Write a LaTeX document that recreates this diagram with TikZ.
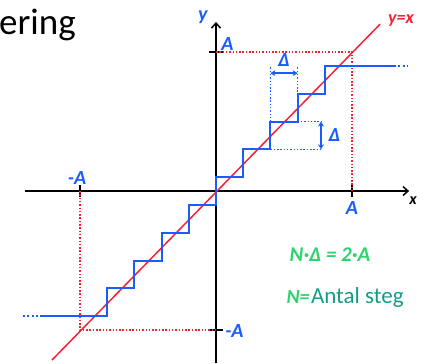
\documentclass[tikz,border=0pt]{standalone}
\usepackage{fontspec}
\setmainfont{Carlito}
\usepackage{tikz}
\usetikzlibrary{arrows.meta,positioning}
\definecolor{penblue}{HTML}{1A5CFF}
\definecolor{penred}{HTML}{F42233}
\definecolor{pengreen}{HTML}{2BD46E}
\definecolor{slideteal}{HTML}{169C86}

\begin{document}
\begin{tikzpicture}[
  x=27.2pt, y=27.8pt,
  axis/.style={line width=1.5pt, -{Straight Barb[length=5pt,width=9pt]}},
  tickmark/.style={line width=2pt},
  stair/.style={penblue, line width=2pt},
  stairdots/.style={penblue, line width=2pt, dash pattern=on 2pt off 2.5pt},
  guide/.style={penred, line width=1.5pt, dash pattern=on 1.5pt off 1.8pt},
  bguide/.style={penblue, line width=1.5pt, dash pattern=on 1.5pt off 1.8pt},
  dlt/.style={penblue, line width=1.6pt, {Stealth[length=5pt,width=6pt]}-{Stealth[length=5pt,width=6pt]}},
  hand/.style={font=\fontsize{20}{20}\selectfont\bfseries\itshape, inner sep=1pt}
]
\useasboundingbox (-7.941,-6.187) rectangle (7.794,6.871);

% Slide title (cut off)
\node[anchor=base west, inner sep=0pt, font=\fontsize{37}{37}\selectfont] (title) at (-7.98,5.63) {ering};

% Axes
\coordinate (xl) at (-7.02,0);
\coordinate (xr) at (7.1,0);
\coordinate (yb) at (0,-6.2);
\coordinate (yt) at (0,6.08);
\draw[axis] (xl) -- (xr);
\draw[axis] (yb) -- (yt);
\foreach \p in {5,-5} {
  \draw[tickmark] (\p,-0.2) -- (\p,0.2);
  \draw[tickmark] (-0.24,\p) -- (0.24,\p);
}

% Limits +-A
\draw[guide] (0,5) -- (5,5) -- (5,0);
\draw[guide] (-5,0) -- (-5,-5) -- (0,-5);

% y = x
\draw[penred, line width=1.5pt] (-6.03,-6.08) -- (6.03,6.0);

% Staircase
\draw[stair] (-6.47,-4.5) \foreach \k in {-4,...,4} { -| (\k,\k+0.5) } -- (6.54,4.5);
\draw[stairdots] (-7.1,-4.5) -- (-6.47,-4.5);
\draw[stairdots] (6.54,4.5) -- (7.06,4.5);

% Step width
\coordinate (h1) at (2,4.24);
\coordinate (h2) at (3,4.24);
\draw[bguide] (2,4.45) -- (2,2.5);
\draw[bguide] (3,4.45) -- (3,3.5);
\draw[dlt] (h1) -- (h2);
\node[hand, penblue] (dx) at (2.5,4.72) {Δ};

% Step height
\coordinate (v1) at (3.86,1.5);
\coordinate (v2) at (3.86,2.5);
\draw[bguide] (3,2.5) -- (3.93,2.5);
\draw[bguide] (2,1.5) -- (3.93,1.5);
\draw[dlt] (v1) -- (v2);
\node[hand, penblue, anchor=west] (dy) at (4.1,2.0) {Δ};

% Axis labels
\node[hand, penblue] (ylab) at (-0.48,6.24) {y};
\node[hand, font=\fontsize{16}{16}\selectfont\bfseries\itshape] (xlab) at (7.24,-0.34) {x};
\node[hand, penred, font=\fontsize{18}{18}\selectfont\bfseries\itshape] (diag) at (6.8,6.12) {y=x};
\node[hand, penblue] (ya) at (0.42,5.3) {A};
\node[hand, penblue] (yma) at (0.68,-5.04) {-A};
\node[hand, penblue] (xma) at (-5.11,0.48) {-A};
\node[hand, penblue] (xa) at (5.0,-0.6) {A};

% Notes
\node[hand, pengreen, font=\fontsize{21}{21}\selectfont\bfseries\itshape] (rel) at (4.19,-2.30) {N·Δ = 2·A};
\node[hand, pengreen, anchor=base west, font=\fontsize{20}{20}\selectfont\bfseries\itshape] (nlab) at (2.55,-4.06) {N=};
\node[anchor=base west, inner sep=0pt, text=slideteal, font=\fontsize{23}{23}\selectfont] (antal) at (nlab.base east) {Antal steg};

\end{tikzpicture}
\end{document}
